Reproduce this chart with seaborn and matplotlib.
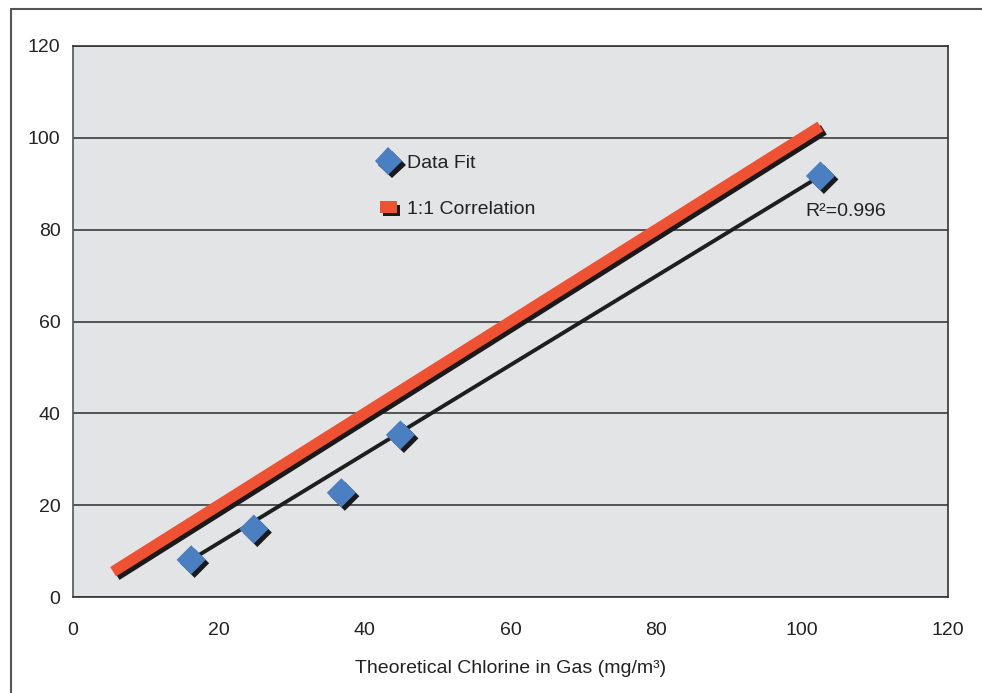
import numpy as np
import pandas as pd
import seaborn as sns
import matplotlib
matplotlib.use("Agg")
import matplotlib.pyplot as plt
import matplotlib.patheffects as pe
from matplotlib.lines import Line2D

# Data
theoretical = [16.2, 24.8, 36.8, 44.9, 102.5]
measured = [8.1, 14.8, 22.7, 35.3, 91.7]
one_to_one_x = [5.5, 102.5]
one_to_one_y = [5.5, 102.5]
fit_x = [16.2, 102.5]
fit_y = [8.1, 91.7]
r2_label = "R²=0.996"
x_ticks = [0, 20, 40, 60, 80, 100, 120]
y_ticks = [0, 20, 40, 60, 80, 100, 120]

sns.set_theme(style="white")
plt.rcParams['font.family'] = ['Liberation Sans', 'DejaVu Sans']

FS = 14
shadow_line = [pe.SimpleLineShadow(offset=(2.5, -2.5), shadow_color='#1a1a1a', alpha=1), pe.Normal()]
shadow_patch = [pe.SimplePatchShadow(offset=(2.5, -2.5), shadow_rgbFace='#1a1a1a', alpha=1), pe.Normal()]

fig = plt.figure(figsize=(9.82, 6.93), dpi=100)
ax = fig.add_axes([73/982, 1-597/693, (948-73)/982, (597-46)/693])
ax.set_facecolor('#e3e4e6')

# 1:1 line
one_df = pd.DataFrame({'x': one_to_one_x, 'y': one_to_one_y})
sns.lineplot(data=one_df, x='x', y='y', ax=ax, color='#ee5233', lw=8,
             solid_capstyle='butt', zorder=3, path_effects=shadow_line)

# Fit line
fit_df = pd.DataFrame({'x': fit_x, 'y': fit_y})
sns.lineplot(data=fit_df, x='x', y='y', ax=ax, color='#1e1e1e', lw=2.8,
             solid_capstyle='butt', zorder=4)

# Points
pts = pd.DataFrame({'x': theoretical, 'y': measured})
sns.scatterplot(data=pts, x='x', y='y', ax=ax, marker='D', s=220, color='#4a80c2',
                edgecolor='none', linewidth=0, zorder=5, path_effects=shadow_patch)

ax.set_xlim(0, 120)
ax.set_ylim(0, 120)
ax.set_xticks(x_ticks)
ax.set_yticks(y_ticks)
ax.yaxis.grid(True, color='#2b2b2b', lw=1.1)
ax.xaxis.grid(False)
ax.set_axisbelow(True)
for s in ax.spines.values():
    s.set_visible(True)
    s.set_color('#333333')
    s.set_linewidth(1.2)
ax.spines['left'].set_color('#555555')
ax.tick_params(axis='x', direction='in', length=7, width=1, color='#333333',
               labelsize=FS, labelcolor='#222222', pad=18)
ax.tick_params(axis='y', length=0, labelsize=FS, labelcolor='#222222', pad=9)
ax.set_xlabel("Theoretical Chlorine in Gas (mg/m³)", fontsize=FS, color='#222222', labelpad=15)
ax.set_ylabel("")

ax.text(100.4, 84.0, r2_label, fontsize=FS, color='#222222', va='center', ha='left')

rect_marker = [(-1, -0.7), (1, -0.7), (1, 0.7), (-1, 0.7), (-1, -0.7)]
handles = [
    Line2D([], [], marker='D', ls='none', markersize=14, color='#4a80c2', mec='none',
           path_effects=shadow_patch),
    Line2D([], [], marker=rect_marker, ls='none', markersize=12, color='#ee5233', mec='none',
           path_effects=shadow_patch),
]
leg = ax.legend(handles, ["Data Fit", "1:1 Correlation"], loc='upper left',
                bbox_to_anchor=(0.327, 0.835), frameon=False, fontsize=FS,
                handletextpad=0.35, labelspacing=1.45, handlelength=1.2)
for t in leg.get_texts():
    t.set_color('#222222')

# Outer frame lines
fig.add_artist(Line2D([11/982, 1], [1-9/693, 1-9/693], color='#555555', lw=1.5))
fig.add_artist(Line2D([11/982, 11/982], [0, 1-9/693], color='#555555', lw=1.5))

fig.savefig("out.png", dpi=100)
